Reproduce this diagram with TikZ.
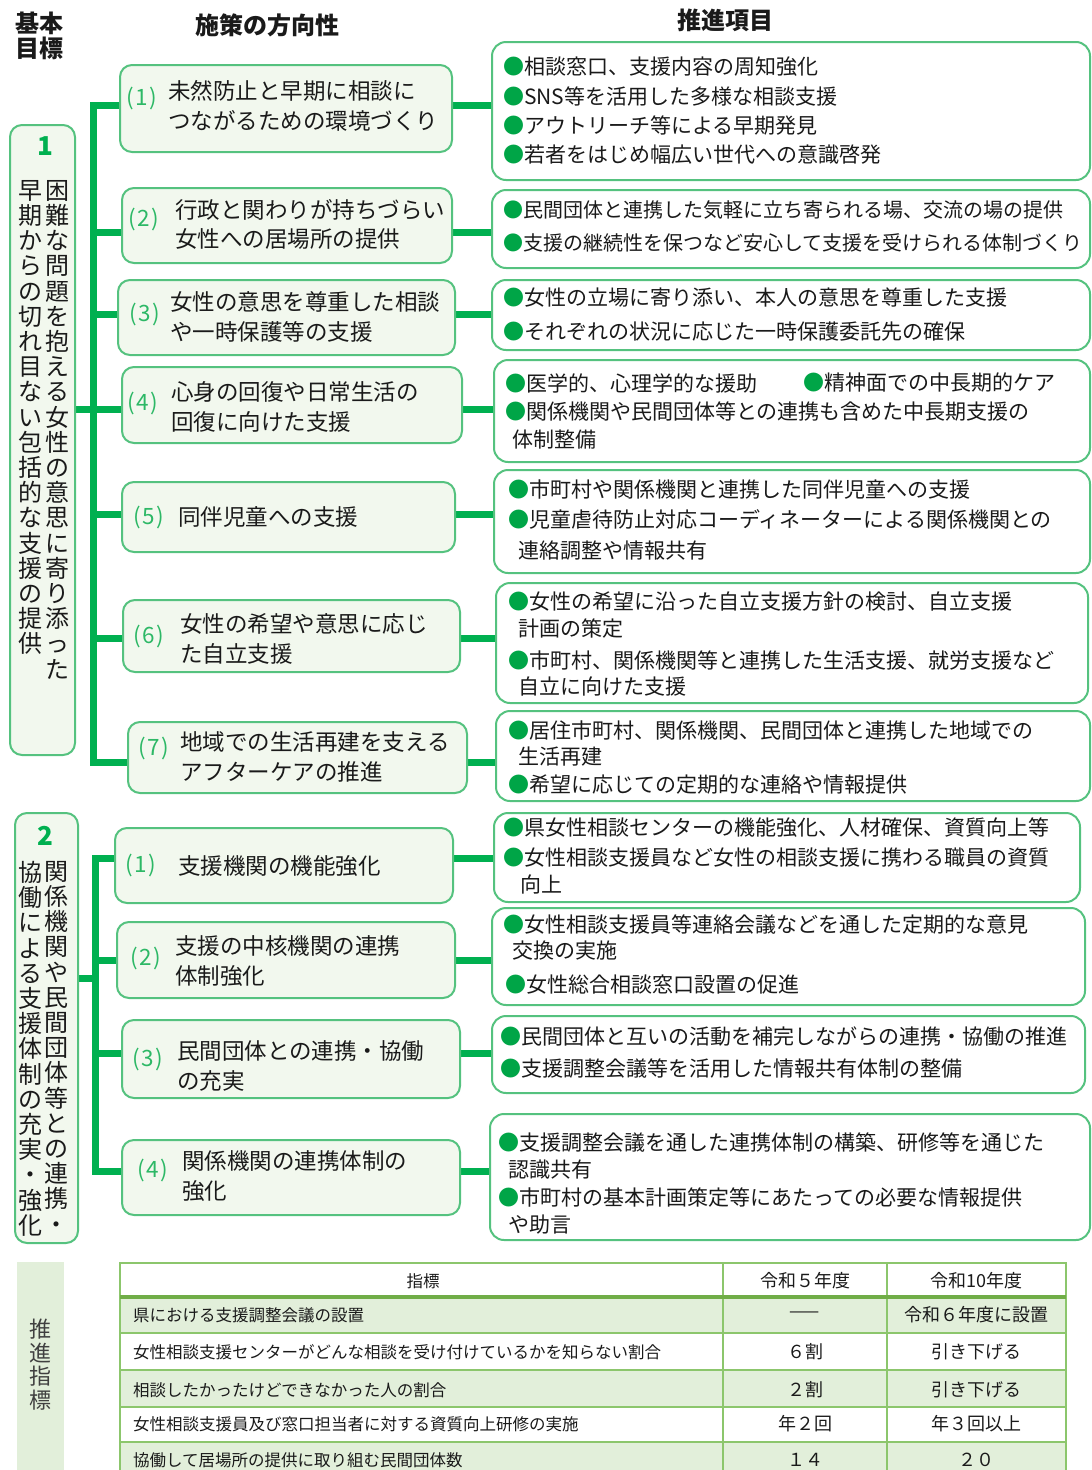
\documentclass[tikz,border=0pt]{standalone}
\usepackage{fontspec}
\setmainfont{Noto Sans CJK JP}
\pgfdeclarelayer{bg}
\pgfsetlayers{bg,main}
\definecolor{trunkgreen}{HTML}{00B050}
\definecolor{boxgreen}{HTML}{55C27F}
\definecolor{boxfill}{HTML}{F2F8EE}
\definecolor{numgreen}{HTML}{2DB866}
\definecolor{bulgreen}{HTML}{00A547}
\definecolor{tabfill}{HTML}{E2EFDA}
\definecolor{tabline}{HTML}{8CC66C}
\definecolor{tabdark}{HTML}{70AD47}
\definecolor{txtcol}{HTML}{1A1A1A}
\definecolor{lbltxt}{HTML}{404040}
\newcommand\bul{{\color{bulgreen}●}}
\newcommand\putline[5]{\node[#1] (#2) at (#3,#4) {#5};}
\tikzset{
 midbox/.style={draw=boxgreen, line width=2pt, fill=boxfill, rounded corners=12pt, inner sep=0pt},
 rbox/.style={draw=boxgreen, line width=2pt, fill=white, rounded corners=14pt, inner sep=0pt},
 goalbox/.style={draw=boxgreen, line width=2pt, fill=boxfill, rounded corners=12pt, inner sep=0pt},
 conn/.style={draw=trunkgreen, line width=7pt},
 mtxt/.style={font=\fontsize{22.5}{28}\selectfont, inner sep=0pt, text=txtcol, anchor=west},
 rtxt/.style={font=\fontsize{21}{26}\selectfont, inner sep=0pt, text=txtcol, anchor=west},
 rtxtb/.style={font=\fontsize{20}{26}\selectfont, inner sep=0pt, text=txtcol, anchor=west},
 numtxt/.style={font=\fontsize{22.5}{28}\selectfont, inner sep=0pt, text=numgreen, anchor=west},
 vtxt/.style={font=\fontsize{24}{25.2}\selectfont, align=center, inner sep=0pt, text=txtcol, anchor=north},
 goalnum/.style={font=\bfseries\fontsize{26}{26}\selectfont, text=trunkgreen, inner sep=0pt},
 headtxt/.style={font=\bfseries\fontsize{24}{25}\selectfont, text=txtcol, inner sep=0pt, align=center},
 ttxt/.style={font=\fontsize{16.5}{20}\selectfont, inner sep=0pt, text=txtcol},
 tnum/.style={font=\fontsize{18}{20}\selectfont, inner sep=0pt, text=txtcol},
 tline/.style={draw=tabline, line width=2pt},
}
\begin{document}
\begin{tikzpicture}[x=1pt,y=-1pt]
\useasboundingbox (0,0) rectangle (1092,1470);

% headers
\node[headtxt] (hgoal) at (40,36) {基本\\目標};
\node[headtxt] (hdir) at (267,25) {施策の方向性};
\node[headtxt] (hitem) at (725,20) {推進項目};

% ===== goal 1 =====
\node[goalbox, minimum width=65pt, minimum height=630pt] (g1) at (42.5,440) {};
\node[goalnum] (g1n) at (45,146) {1};
\node[vtxt] (g1r) at (57,180) {困\\難\\な\\問\\題\\を\\抱\\え\\る\\女\\性\\の\\意\\思\\に\\寄\\り\\添\\っ\\た};
\node[vtxt] (g1l) at (30,180) {早\\期\\か\\ら\\の\\切\\れ\\目\\な\\い\\包\\括\\的\\な\\支\\援\\の\\提\\供};

% middle boxes section 1
\node[midbox, minimum width=332pt, minimum height=87pt] (m1) at (286,108.5) {};
\node[midbox, minimum width=330pt, minimum height=75pt] (m2) at (287,225.5) {};
\node[midbox, minimum width=337pt, minimum height=75pt] (m3) at (286.5,317.5) {};
\node[midbox, minimum width=340pt, minimum height=76pt] (m4) at (292,405) {};
\node[midbox, minimum width=333pt, minimum height=70pt] (m5) at (288.5,517) {};
\node[midbox, minimum width=337pt, minimum height=72pt] (m6) at (291.5,636) {};
\node[midbox, minimum width=339pt, minimum height=71pt] (m7) at (297.5,757.5) {};

\putline{numtxt}{m1n}{126}{98}{(\kern1.5pt1\kern1.5pt)}
\putline{mtxt}{m1a}{168}{91}{未然防止と早期に相談に}
\putline{mtxt}{m1b}{168}{121}{つながるための環境づくり}
\putline{numtxt}{m2n}{128}{219}{(\kern1.5pt2\kern1.5pt)}
\putline{mtxt}{m2a}{175}{210}{行政と関わりが持ちづらい}
\putline{mtxt}{m2b}{175}{239}{女性への居場所の提供}
\putline{numtxt}{m3n}{129}{314}{(\kern1.5pt3\kern1.5pt)}
\putline{mtxt}{m3a}{170}{302}{女性の意思を尊重した相談}
\putline{mtxt}{m3b}{170}{332}{や一時保護等の支援}
\putline{numtxt}{m4n}{127}{403}{(\kern1.5pt4\kern1.5pt)}
\putline{mtxt}{m4a}{171}{392}{心身の回復や日常生活の}
\putline{mtxt}{m4b}{171}{422}{回復に向けた支援}
\putline{numtxt}{m5n}{133}{517}{(\kern1.5pt5\kern1.5pt)}
\putline{mtxt}{m5a}{178}{517}{同伴児童への支援}
\putline{numtxt}{m6n}{133}{636}{(\kern1.5pt6\kern1.5pt)}
\putline{mtxt}{m6a}{180}{624}{女性の希望や意思に応じ}
\putline{mtxt}{m6b}{180}{654}{た自立支援}
\putline{numtxt}{m7n}{138}{748}{(\kern1.5pt7\kern1.5pt)}
\putline{mtxt}{m7a}{180}{742}{地域での生活再建を支える}
\putline{mtxt}{m7b}{180}{772}{アフターケアの推進}

% right boxes section 1
\node[rbox, minimum width=598pt, minimum height=138pt] (r1) at (791,111) {};
\node[rbox, minimum width=598pt, minimum height=78pt] (r2) at (791,229) {};
\node[rbox, minimum width=598pt, minimum height=70pt] (r3) at (791,315) {};
\node[rbox, minimum width=596pt, minimum height=102pt] (r4) at (792,411) {};
\node[rbox, minimum width=596pt, minimum height=103pt] (r5) at (792,521.5) {};
\node[rbox, minimum width=592pt, minimum height=120pt] (r6) at (792,643) {};
\node[rbox, minimum width=594pt, minimum height=90pt] (r7) at (793,756) {};

\putline{rtxt}{r1a}{503}{67}{\bul 相談窓口、支援内容の周知強化}
\putline{rtxt}{r1b}{503}{97}{\bul SNS等を活用した多様な相談支援}
\putline{rtxt}{r1c}{503}{126}{\bul アウトリーチ等による早期発見}
\putline{rtxt}{r1d}{503}{155}{\bul 若者をはじめ幅広い世代への意識啓発}
\putline{rtxtb}{r2a}{503}{210}{\bul 民間団体と連携した気軽に立ち寄られる場、交流の場の提供}
\putline{rtxtb}{r2b}{503}{243}{\bul 支援の継続性を保つなど安心して支援を受けられる体制づくり}
\putline{rtxt}{r3a}{503}{298}{\bul 女性の立場に寄り添い、本人の意思を尊重した支援}
\putline{rtxt}{r3b}{503}{332}{\bul それぞれの状況に応じた一時保護委託先の確保}
\putline{rtxt}{r4a}{505}{383}{\bul 医学的、心理学的な援助}
\putline{rtxt}{r4b}{803}{383}{\bul 精神面での中長期的ケア}
\putline{rtxt}{r4c}{505}{412}{\bul 関係機関や民間団体等との連携も含めた中長期支援の}
\putline{rtxt}{r4d}{512}{440}{体制整備}
\putline{rtxt}{r5a}{508}{490}{\bul 市町村や関係機関と連携した同伴児童への支援}
\putline{rtxt}{r5b}{508}{519}{\bul 児童虐待防止対応コーディネーターによる関係機関との}
\putline{rtxt}{r5c}{518}{551}{連絡調整や情報共有}
\putline{rtxt}{r6a}{508}{602}{\bul 女性の希望に沿った自立支援方針の検討、自立支援}
\putline{rtxt}{r6b}{518}{629}{計画の策定}
\putline{rtxt}{r6c}{508}{660}{\bul 市町村、関係機関等と連携した生活支援、就労支援など}
\putline{rtxt}{r6d}{518}{687}{自立に向けた支援}
\putline{rtxt}{r7a}{508}{730}{\bul 居住市町村、関係機関、民間団体と連携した地域での}
\putline{rtxt}{r7b}{518}{757}{生活再建}
\putline{rtxt}{r7c}{508}{785}{\bul 希望に応じての定期的な連絡や情報提供}

% ===== goal 2 =====
\node[goalbox, minimum width=63pt, minimum height=430pt] (g2) at (46.5,1028) {};
\node[goalnum] (g2n) at (45,836) {2};
\node[vtxt] (g2r) at (56,861) {関\\係\\機\\関\\や\\民\\間\\団\\体\\等\\と\\の\\連\\携\\・};
\node[vtxt] (g2l) at (30,861) {協\\働\\に\\よ\\る\\支\\援\\体\\制\\の\\充\\実\\・\\強\\化};

\node[midbox, minimum width=338pt, minimum height=75pt] (n1) at (284,865.5) {};
\node[midbox, minimum width=338pt, minimum height=76pt] (n2) at (286,960) {};
\node[midbox, minimum width=338pt, minimum height=78pt] (n3) at (291,1059) {};
\node[midbox, minimum width=338pt, minimum height=75pt] (n4) at (291,1177.5) {};

\putline{numtxt}{n1n}{125}{865}{(\kern1.5pt1\kern1.5pt)}
\putline{mtxt}{n1a}{178}{866}{支援機関の機能強化}
\putline{numtxt}{n2n}{130}{958}{(\kern1.5pt2\kern1.5pt)}
\putline{mtxt}{n2a}{175}{946}{支援の中核機関の連携}
\putline{mtxt}{n2b}{175}{976}{体制強化}
\putline{numtxt}{n3n}{132}{1059}{(\kern1.5pt3\kern1.5pt)}
\putline{mtxt}{n3a}{177}{1051}{民間団体との連携・協働}
\putline{mtxt}{n3b}{177}{1081}{の充実}
\putline{numtxt}{n4n}{137}{1170}{(\kern1.5pt4\kern1.5pt)}
\putline{mtxt}{n4a}{182}{1161}{関係機関の連携体制の}
\putline{mtxt}{n4b}{182}{1191}{強化}

\node[rbox, minimum width=586pt, minimum height=89pt] (s1) at (787,857.5) {};
\node[rbox, minimum width=593pt, minimum height=97pt] (s2) at (788.5,956.5) {};
\node[rbox, minimum width=593pt, minimum height=77pt] (s3) at (788.5,1054.5) {};
\node[rbox, minimum width=600pt, minimum height=126pt] (s4) at (790,1177) {};

\putline{rtxt}{s1a}{503}{828}{\bul 県女性相談センターの機能強化、人材確保、資質向上等}
\putline{rtxt}{s1b}{503}{858}{\bul 女性相談支援員など女性の相談支援に携わる職員の資質}
\putline{rtxt}{s1c}{520}{884}{向上}
\putline{rtxt}{s2a}{503}{925}{\bul 女性相談支援員等連絡会議などを通した定期的な意見}
\putline{rtxt}{s2b}{512}{951}{交換の実施}
\putline{rtxt}{s2c}{505}{985}{\bul 女性総合相談窓口設置の促進}
\putline{rtxt}{s3a}{500}{1036}{\bul 民間団体と互いの活動を補完しながらの連携・協働の推進}
\putline{rtxt}{s3b}{500}{1069}{\bul 支援調整会議等を活用した情報共有体制の整備}
\putline{rtxt}{s4a}{498}{1143}{\bul 支援調整会議を通した連携体制の構築、研修等を通じた}
\putline{rtxt}{s4b}{508}{1170}{認識共有}
\putline{rtxt}{s4c}{498}{1198}{\bul 市町村の基本計画策定等にあたっての必要な情報提供}
\putline{rtxt}{s4d}{508}{1225}{や助言}

% ===== connectors =====
\coordinate (t1) at (93,0);
\coordinate (b1) at (0,105);
\coordinate (b2) at (0,232);
\coordinate (b3) at (0,314);
\coordinate (b4) at (0,409);
\coordinate (b5) at (0,514);
\coordinate (b6) at (0,638);
\coordinate (b7) at (0,762);
\coordinate (t2) at (95,0);
\coordinate (c1) at (0,858);
\coordinate (c2) at (0,960);
\coordinate (c3) at (0,1053);
\coordinate (c4) at (0,1171);
\coordinate (cg) at (0,978);
\begin{pgfonlayer}{bg}
\draw[conn, line join=miter] (m1.west |- b1) -- (t1 |- b1) -- (t1 |- b7) -- (m7.west |- b7);
\draw[conn] (t1 |- b2) -- (m2.west |- b2);
\draw[conn] (t1 |- b3) -- (m3.west |- b3);
\draw[conn] (g1.east |- b4) -- (m4.west |- b4);
\draw[conn] (t1 |- b5) -- (m5.west |- b5);
\draw[conn] (t1 |- b6) -- (m6.west |- b6);
\draw[conn] (m1.east |- b1) -- (r1.west |- b1);
\draw[conn] (m2.east |- b2) -- (r2.west |- b2);
\draw[conn] (m3.east |- b3) -- (r3.west |- b3);
\draw[conn] (m4.east |- b4) -- (r4.west |- b4);
\draw[conn] (m5.east |- b5) -- (r5.west |- b5);
\draw[conn] (m6.east |- b6) -- (r6.west |- b6);
\draw[conn] (m7.east |- b7) -- (r7.west |- b7);
\draw[conn, line join=miter] (n1.west |- c1) -- (t2 |- c1) -- (t2 |- c4) -- (n4.west |- c4);
\draw[conn] (t2 |- c2) -- (n2.west |- c2);
\draw[conn] (t2 |- c3) -- (n3.west |- c3);
\draw[conn] (g2.east |- cg) -- (t2 |- cg);
\draw[conn] (n1.east |- c1) -- (s1.west |- c1);
\draw[conn] (n2.east |- c2) -- (s2.west |- c2);
\draw[conn] (n3.east |- c3) -- (s3.west |- c3);
\draw[conn] (n4.east |- c4) -- (s4.west |- c4);
\end{pgfonlayer}

% ===== indicators =====
\begin{scope}
\clip (0,0) rectangle (1092,1470);
\fill[tabfill] (17,1262) rectangle (64,1480);
\node[font=\fontsize{22}{23.5}\selectfont, align=center, inner sep=0pt, text=lbltxt, anchor=north] (lbl) at (40,1319) {推\\進\\指\\標};
\fill[tabfill] (120,1297) rectangle (1066,1333);
\fill[tabfill] (120,1370) rectangle (1066,1407);
\fill[tabfill] (120,1442) rectangle (1066,1480);
\draw[tline] (120,1263) -- (1066,1263);
\draw[tline] (120,1333) -- (1066,1333);
\draw[tline] (120,1370) -- (1066,1370);
\draw[tline] (120,1407) -- (1066,1407);
\draw[tline] (120,1442) -- (1066,1442);
\draw[tline] (120,1262) -- (120,1480);
\draw[tline] (723,1262) -- (723,1480);
\draw[tline] (887,1262) -- (887,1480);
\draw[tline] (1066,1262) -- (1066,1480);
\draw[draw=tabdark, line width=3.5pt] (120,1297) -- (1066,1297);
\end{scope}
\node[ttxt] (th1) at (423,1281) {指標};
\node[tnum] (th2) at (805,1281) {令和５年度};
\node[tnum] (th3) at (976,1281) {令和10年度};
\node[ttxt, anchor=west] (ta1) at (133,1315) {県における支援調整会議の設置};
\node[tnum] (tb1) at (805,1315) {——};
\node[tnum] (tc1) at (976,1315) {令和６年度に設置};
\node[ttxt, anchor=west] (ta2) at (133,1352) {女性相談支援センターがどんな相談を受け付けているかを知らない割合};
\node[tnum] (tb2) at (805,1352) {６割};
\node[tnum] (tc2) at (976,1352) {引き下げる};
\node[ttxt, anchor=west] (ta3) at (133,1390) {相談したかったけどできなかった人の割合};
\node[tnum] (tb3) at (805,1390) {２割};
\node[tnum] (tc3) at (976,1390) {引き下げる};
\node[ttxt, anchor=west] (ta4) at (133,1424) {女性相談支援員及び窓口担当者に対する資質向上研修の実施};
\node[tnum] (tb4) at (805,1424) {年２回};
\node[tnum] (tc4) at (976,1424) {年３回以上};
\node[ttxt, anchor=west] (ta5) at (133,1460) {協働して居場所の提供に取り組む民間団体数};
\node[tnum] (tb5) at (805,1460) {１４};
\node[tnum] (tc5) at (976,1460) {２０};
\end{tikzpicture}
\end{document}
